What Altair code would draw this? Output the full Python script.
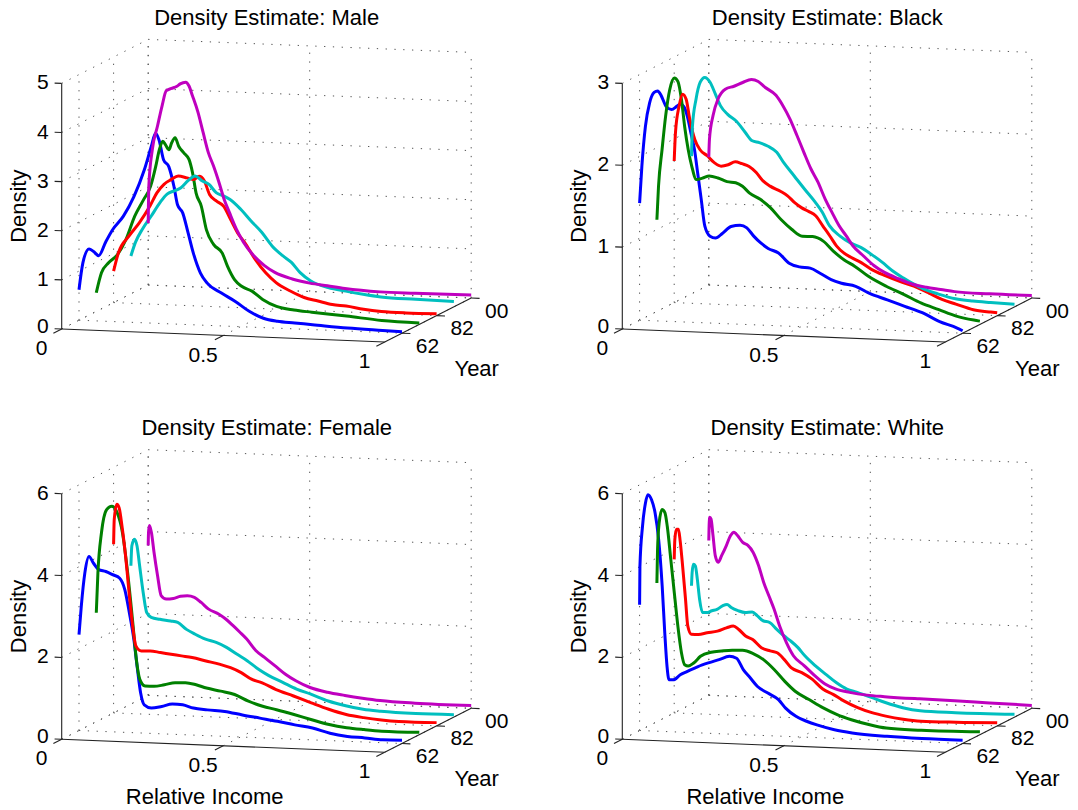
import altair as alt
import pandas as pd

# ---------------- data ----------------
panels = ["Male", "Black", "Female", "White"]
series = ["1962", "1972", "1982", "1992", "2000"]          # year index 1..5 along the Year axis
series_colors = ["#0000FF", "#008000", "#FF0000", "#00BFBF", "#BF00BF"]
year_ticks = [1, 3, 5]
year_tick_labels = ["62", "82", "00"]
income_ticks = [0, 0.5, 1]
income_tick_labels = ["0", "0.5", "1"]
density_ticks = {"Male": [0, 1, 2, 3, 4, 5], "Black": [0, 1, 2, 3],
                 "Female": [0, 2, 4, 6], "White": [0, 2, 4, 6]}

# (relative income, density) per curve
male_62 = [(0,0.62),(0.012,1.17),(0.031,1.46),(0.045,1.41),(0.061,1.33),(0.083,1.62),(0.104,1.87),(0.137,2.15),(0.17,2.56),(0.202,3.11),(0.224,3.6),(0.237,3.87),(0.248,3.73),(0.262,3.33),(0.278,3.2),(0.294,2.8),(0.305,2.43),(0.321,2.27),(0.338,1.86),(0.354,1.46),(0.376,1.06),(0.397,0.86),(0.441,0.67),(0.484,0.51),(0.527,0.32),(0.571,0.19),(0.614,0.14),(0.668,0.12),(0.723,0.1),(0.831,0.06),(0.94,0.04),(1.0,0.03)]
male_72 = [(0,0.38),(0.016,0.79),(0.038,1.0),(0.065,1.17),(0.092,1.49),(0.119,1.97),(0.146,2.31),(0.168,2.59),(0.184,3.0),(0.195,3.34),(0.206,3.52),(0.214,3.45),(0.225,3.35),(0.233,3.49),(0.244,3.6),(0.255,3.43),(0.271,3.3),(0.287,3.17),(0.298,2.9),(0.309,2.49),(0.325,2.23),(0.341,1.75),(0.363,1.46),(0.39,1.29),(0.406,1.03),(0.428,0.76),(0.45,0.63),(0.482,0.54),(0.515,0.38),(0.558,0.25),(0.612,0.19),(0.667,0.16),(0.775,0.11),(0.884,0.05),(1.0,0.03)]
male_82 = [(0,0.64),(0.015,1.02),(0.048,1.37),(0.08,1.65),(0.113,2.0),(0.134,2.27),(0.156,2.45),(0.178,2.55),(0.2,2.63),(0.227,2.6),(0.248,2.57),(0.265,2.64),(0.281,2.55),(0.297,2.28),(0.319,2.15),(0.341,2.05),(0.362,1.79),(0.384,1.52),(0.406,1.33),(0.438,1.0),(0.471,0.73),(0.503,0.54),(0.547,0.38),(0.59,0.26),(0.633,0.2),(0.677,0.14),(0.72,0.12),(0.774,0.07),(0.829,0.04),(0.905,0.03),(1.0,0.04)]
male_92 = [(0,0.77),(0.014,1.05),(0.036,1.33),(0.063,1.6),(0.09,1.88),(0.112,2.06),(0.134,2.13),(0.155,2.2),(0.177,2.35),(0.199,2.45),(0.22,2.36),(0.242,2.29),(0.264,2.13),(0.286,2.07),(0.307,2.0),(0.34,1.81),(0.372,1.58),(0.405,1.36),(0.437,1.09),(0.47,0.9),(0.497,0.77),(0.524,0.57),(0.557,0.41),(0.611,0.29),(0.665,0.23),(0.719,0.18),(0.774,0.14),(0.882,0.12),(1.0,0.11)]
male_00 = [(0,1.26),(0.002,2.02),(0.013,2.77),(0.029,3.25),(0.043,3.66),(0.056,3.97),(0.072,4.02),(0.089,4.07),(0.099,4.12),(0.116,4.16),(0.126,4.09),(0.137,3.89),(0.154,3.56),(0.17,3.15),(0.186,2.75),(0.202,2.48),(0.219,2.15),(0.235,1.81),(0.251,1.55),(0.273,1.21),(0.295,0.95),(0.327,0.68),(0.36,0.49),(0.392,0.36),(0.446,0.24),(0.5,0.17),(0.555,0.13),(0.609,0.09),(0.718,0.05),(0.826,0.05),(1.0,0.06)]

black_62 = [(0,1.43),(0.007,1.88),(0.018,2.37),(0.031,2.66),(0.045,2.79),(0.056,2.81),(0.066,2.76),(0.083,2.62),(0.099,2.59),(0.115,2.63),(0.126,2.66),(0.137,2.63),(0.148,2.51),(0.159,2.31),(0.17,2.11),(0.18,1.82),(0.191,1.5),(0.202,1.18),(0.218,1.06),(0.235,1.04),(0.256,1.1),(0.283,1.19),(0.311,1.21),(0.332,1.18),(0.354,1.08),(0.376,1.0),(0.398,0.94),(0.43,0.89),(0.463,0.77),(0.495,0.73),(0.528,0.72),(0.56,0.66),(0.593,0.59),(0.625,0.55),(0.669,0.52),(0.712,0.44),(0.767,0.37),(0.821,0.3),(0.875,0.23),(0.929,0.13),(0.983,0.06),(1.0,0.03)]
black_72 = [(0,1.12),(0.005,1.53),(0.016,1.98),(0.027,2.39),(0.04,2.72),(0.054,2.86),(0.065,2.82),(0.076,2.6),(0.086,2.27),(0.097,1.99),(0.108,1.79),(0.122,1.63),(0.141,1.65),(0.162,1.68),(0.189,1.66),(0.217,1.62),(0.244,1.61),(0.265,1.57),(0.287,1.49),(0.32,1.42),(0.352,1.32),(0.385,1.18),(0.417,1.07),(0.45,0.99),(0.482,0.99),(0.515,0.94),(0.547,0.82),(0.58,0.72),(0.612,0.65),(0.656,0.53),(0.71,0.42),(0.764,0.33),(0.819,0.23),(0.873,0.16),(0.927,0.09),(0.981,0.05),(1.0,0.04)]
black_82 = [(0,1.73),(0.004,2.08),(0.015,2.4),(0.026,2.55),(0.037,2.49),(0.048,2.25),(0.064,2.0),(0.08,1.88),(0.102,1.81),(0.124,1.73),(0.145,1.69),(0.167,1.71),(0.189,1.75),(0.21,1.73),(0.232,1.7),(0.254,1.63),(0.275,1.53),(0.297,1.47),(0.33,1.41),(0.351,1.36),(0.373,1.28),(0.395,1.22),(0.416,1.18),(0.438,1.13),(0.46,1.01),(0.482,0.89),(0.503,0.77),(0.525,0.69),(0.547,0.64),(0.579,0.58),(0.612,0.5),(0.655,0.43),(0.698,0.37),(0.742,0.32),(0.785,0.25),(0.829,0.17),(0.872,0.12),(0.926,0.06),(0.98,0.04),(1.0,0.035)]
black_92 = [(0,1.68),(0.003,2.05),(0.014,2.38),(0.027,2.59),(0.041,2.65),(0.058,2.59),(0.074,2.45),(0.09,2.31),(0.112,2.21),(0.139,2.13),(0.166,2.0),(0.188,1.9),(0.21,1.88),(0.237,1.84),(0.264,1.77),(0.285,1.65),(0.318,1.49),(0.351,1.33),(0.383,1.18),(0.405,1.06),(0.427,0.9),(0.459,0.78),(0.492,0.7),(0.524,0.65),(0.557,0.57),(0.59,0.48),(0.622,0.38),(0.655,0.3),(0.687,0.23),(0.72,0.17),(0.763,0.12),(0.817,0.07),(0.871,0.05),(0.926,0.04),(1.0,0.03)]
black_00 = [(0,1.56),(0.002,1.78),(0.013,2.07),(0.029,2.28),(0.051,2.4),(0.078,2.44),(0.105,2.49),(0.132,2.53),(0.153,2.51),(0.175,2.44),(0.208,2.35),(0.229,2.23),(0.251,2.07),(0.273,1.87),(0.294,1.67),(0.316,1.47),(0.338,1.31),(0.36,1.11),(0.381,0.95),(0.403,0.79),(0.425,0.67),(0.446,0.55),(0.479,0.43),(0.511,0.32),(0.544,0.24),(0.587,0.17),(0.631,0.11),(0.674,0.08),(0.718,0.06),(0.761,0.04),(0.87,0.03),(1.0,0.03)]

female_62 = [(0,2.34),(0.007,3.03),(0.018,3.85),(0.031,4.26),(0.045,4.1),(0.061,3.95),(0.083,3.91),(0.104,3.84),(0.126,3.76),(0.142,3.48),(0.156,2.92),(0.17,2.27),(0.18,1.62),(0.191,0.97),(0.202,0.69),(0.224,0.62),(0.256,0.67),(0.289,0.74),(0.321,0.73),(0.354,0.66),(0.397,0.63),(0.451,0.61),(0.506,0.54),(0.56,0.48),(0.614,0.42),(0.668,0.35),(0.723,0.29),(0.777,0.18),(0.831,0.12),(0.885,0.1),(0.94,0.07),(1.0,0.08)]
female_72 = [(0,2.66),(0.005,3.64),(0.016,4.62),(0.032,5.19),(0.048,5.28),(0.065,5.12),(0.081,4.64),(0.097,3.67),(0.114,2.37),(0.124,1.56),(0.135,1.07),(0.151,0.92),(0.179,0.92),(0.211,0.97),(0.244,1.03),(0.276,1.04),(0.309,1.0),(0.341,0.93),(0.385,0.87),(0.428,0.8),(0.471,0.65),(0.515,0.54),(0.558,0.47),(0.612,0.37),(0.667,0.26),(0.721,0.16),(0.775,0.1),(0.829,0.07),(0.884,0.05),(1.0,0.06)]
female_82 = [(0,4.12),(0.002,4.73),(0.01,5.1),(0.017,5.02),(0.026,4.57),(0.037,3.85),(0.048,2.95),(0.059,2.14),(0.069,1.66),(0.086,1.54),(0.113,1.55),(0.145,1.52),(0.178,1.49),(0.21,1.46),(0.243,1.43),(0.286,1.36),(0.33,1.29),(0.362,1.22),(0.395,1.11),(0.427,0.96),(0.46,0.88),(0.503,0.73),(0.557,0.59),(0.612,0.44),(0.666,0.3),(0.72,0.19),(0.774,0.13),(0.829,0.09),(0.883,0.07),(1.0,0.08)]
female_92 = [(0,3.38),(0.003,3.87),(0.011,4.03),(0.019,3.87),(0.027,3.39),(0.038,2.74),(0.049,2.25),(0.063,2.14),(0.09,2.1),(0.123,2.07),(0.145,2.04),(0.172,1.88),(0.199,1.77),(0.231,1.66),(0.264,1.59),(0.296,1.48),(0.329,1.32),(0.361,1.17),(0.394,0.98),(0.427,0.83),(0.47,0.68),(0.513,0.53),(0.557,0.42),(0.611,0.27),(0.665,0.17),(0.719,0.1),(0.774,0.07),(0.882,0.05),(1.0,0.06)]
female_00 = [(0,3.66),(0.001,3.98),(0.004,4.15),(0.01,3.98),(0.018,3.5),(0.029,2.93),(0.04,2.45),(0.056,2.37),(0.078,2.39),(0.1,2.45),(0.121,2.47),(0.143,2.44),(0.164,2.32),(0.186,2.17),(0.219,2.05),(0.24,1.94),(0.262,1.79),(0.284,1.63),(0.305,1.47),(0.333,1.2),(0.36,1.04),(0.392,0.85),(0.425,0.65),(0.457,0.5),(0.501,0.35),(0.555,0.25),(0.609,0.19),(0.663,0.14),(0.718,0.1),(0.826,0.07),(1.0,0.07)]

white_62 = [(0,3.07),(0.001,4.01),(0.009,4.99),(0.018,5.56),(0.026,5.77),(0.037,5.65),(0.048,5.33),(0.059,4.68),(0.07,3.54),(0.078,2.4),(0.085,1.59),(0.091,1.27),(0.104,1.27),(0.126,1.4),(0.148,1.49),(0.181,1.62),(0.213,1.72),(0.246,1.81),(0.278,1.9),(0.3,1.86),(0.321,1.59),(0.343,1.39),(0.365,1.19),(0.397,1.04),(0.43,0.89),(0.452,0.69),(0.484,0.5),(0.517,0.39),(0.549,0.31),(0.603,0.21),(0.658,0.15),(0.766,0.1),(0.874,0.08),(1.0,0.08)]
white_72 = [(0,3.39),(0.002,4.2),(0.007,4.86),(0.016,5.19),(0.025,5.11),(0.032,4.79),(0.043,3.98),(0.054,3.16),(0.065,2.35),(0.076,1.71),(0.086,1.42),(0.097,1.39),(0.114,1.47),(0.135,1.64),(0.168,1.75),(0.2,1.79),(0.233,1.82),(0.265,1.83),(0.298,1.76),(0.33,1.62),(0.363,1.39),(0.396,1.11),(0.428,0.88),(0.471,0.69),(0.515,0.5),(0.558,0.35),(0.602,0.24),(0.656,0.14),(0.71,0.07),(0.819,0.05),(1.0,0.07)]
white_82 = [(0,3.75),(0.002,4.24),(0.007,4.49),(0.013,4.49),(0.018,4.24),(0.026,3.6),(0.035,2.79),(0.042,2.14),(0.053,1.94),(0.075,1.94),(0.102,1.99),(0.134,2.04),(0.162,2.13),(0.183,2.18),(0.2,2.1),(0.221,1.95),(0.243,1.87),(0.27,1.68),(0.297,1.61),(0.319,1.57),(0.341,1.41),(0.362,1.22),(0.395,1.11),(0.427,0.96),(0.46,0.73),(0.492,0.61),(0.525,0.46),(0.568,0.31),(0.612,0.2),(0.655,0.13),(0.709,0.07),(0.764,0.04),(0.872,0.05),(1.0,0.08)]
white_92 = [(0,2.89),(0.002,3.22),(0.006,3.42),(0.012,3.38),(0.018,3.06),(0.025,2.57),(0.034,2.25),(0.047,2.25),(0.063,2.3),(0.079,2.34),(0.096,2.43),(0.11,2.47),(0.123,2.4),(0.144,2.33),(0.166,2.29),(0.188,2.31),(0.204,2.22),(0.221,2.11),(0.242,2.07),(0.264,1.91),(0.286,1.76),(0.307,1.64),(0.329,1.49),(0.351,1.29),(0.383,1.06),(0.416,0.86),(0.448,0.67),(0.481,0.52),(0.513,0.45),(0.557,0.34),(0.6,0.23),(0.654,0.12),(0.708,0.06),(0.817,0.05),(1.0,0.07)]
white_00 = [(0,3.78),(0.001,4.15),(0.003,4.35),(0.007,4.31),(0.013,3.91),(0.02,3.42),(0.029,3.26),(0.04,3.43),(0.054,3.67),(0.067,3.92),(0.078,4.01),(0.089,3.93),(0.105,3.77),(0.121,3.7),(0.137,3.54),(0.154,3.22),(0.17,2.81),(0.186,2.49),(0.202,2.17),(0.219,1.77),(0.24,1.37),(0.262,1.05),(0.295,0.82),(0.327,0.59),(0.36,0.39),(0.392,0.28),(0.436,0.21),(0.49,0.16),(0.544,0.14),(0.652,0.12),(0.761,0.11),(0.869,0.09),(1.0,0.07)]

curves = {
    "Male": [male_62, male_72, male_82, male_92, male_00],
    "Black": [black_62, black_72, black_82, black_92, black_00],
    "Female": [female_62, female_72, female_82, female_92, female_00],
    "White": [white_62, white_72, white_82, white_92, white_00],
}

# ---------------- layout (3-D view projection) ----------------
W, H = 1078, 810
EX = (323.0, 13.0)     # screen shift for relative income 0 -> 1
EY = (86.5, -44.0)     # screen shift across full year axis
ZH = 245.6             # screen height of density axis
YEAR_SPAN = 5.0
ORIGIN = {"Male": (61.7, 329.0), "Black": (622.3, 329.0),
          "Female": (61.7, 739.3), "White": (622.3, 739.3)}
FONT = "Liberation Sans"
FS = 22        # titles and axis labels
FS_TICK = 21   # tick labels


def project(panel, x, k, z):
    ox, oy = ORIGIN[panel]
    f = k / YEAR_SPAN
    zt = z / density_ticks[panel][-1]
    return ox + EX[0] * x + EY[0] * f, oy + EX[1] * x + EY[1] * f - ZH * zt


# curves
rows = []
for panel in panels:
    for k, (name, pts) in enumerate(zip(series, curves[panel]), start=1):
        for i, (x, d) in enumerate(pts):
            sx, sy = project(panel, x, k, d)
            rows.append(dict(panel=panel, series=name, key=panel + name, i=i, sx=sx, sy=sy))
curve_df = pd.DataFrame(rows)

# grid lines, axes, ticks
seg_rows = []


def seg(panel, kind, a, b):
    x1, y1 = project(panel, *a)
    x2, y2 = project(panel, *b)
    seg_rows.append(dict(kind=kind, sx=x1, sy=y1, sx2=x2, sy2=y2))


for panel in panels:
    zt = density_ticks[panel]
    zm = zt[-1]
    for x in income_ticks:
        seg(panel, "grid", (x, 0, 0), (x, YEAR_SPAN, 0))
        seg(panel, "grid", (x, YEAR_SPAN, 0), (x, YEAR_SPAN, zm))
    for k in year_ticks:
        seg(panel, "grid", (0, k, 0), (1, k, 0))
        seg(panel, "grid", (0, k, 0), (0, k, zm))
    for z in zt:
        seg(panel, "grid", (0, YEAR_SPAN, z), (1, YEAR_SPAN, z))
        seg(panel, "grid", (0, 0, z), (0, YEAR_SPAN, z))
    seg(panel, "axis", (0, 0, 0), (0, 0, zm))
    seg(panel, "axis", (0, 0, 0), (1, 0, 0))
    seg(panel, "axis", (1, 0, 0), (1, YEAR_SPAN, 0))
    for z in zt:
        seg(panel, "axis", (0, 0, z), (-0.022, 0, z))
    for x in income_ticks:
        seg(panel, "axis", (x, 0, 0), (x, -0.48, 0))
    for k in year_ticks:
        seg(panel, "axis", (1, k, 0), (1.026, k, 0))
seg_df = pd.DataFrame(seg_rows)

# text
tick_right, tick_center, center_rows, rot_rows, title_rows = [], [], [], [], []
for panel in panels:
    ox, oy = ORIGIN[panel]
    for j, z in enumerate(density_ticks[panel]):
        px, py = project(panel, 0, 0, z)
        tick_right.append(dict(sx=px - 13, sy=py - (2.5 if j == 0 else 0), label=str(z)))
    for x, lab in zip(income_ticks, income_tick_labels):
        px, py = project(panel, x, 0, 0)
        tick_center.append(dict(sx=px - 20, sy=py + 20, label=lab))
    for k, lab in zip(year_ticks, year_tick_labels):
        px, py = project(panel, 1, k, 0)
        tick_center.append(dict(sx=px + 25.5, sy=py + 13.5, label=lab))
    center_rows.append(dict(sx=ox + 415, sy=oy + 40, label="Year"))
    if panel in ("Female", "White"):
        center_rows.append(dict(sx=ox + 143, sy=oy + 57.5, label="Relative Income"))
    rot_rows.append(dict(sx=ox - 43, sy=oy - ZH / 2, label="Density"))
    title_rows.append(dict(sx=ox + 205, sy=oy - 311, label="Density Estimate: " + panel))

xs = alt.Scale(domain=[0, W], nice=False, zero=False)
ys = alt.Scale(domain=[H, 0], nice=False, zero=False)
X = alt.X("sx:Q", scale=xs, axis=None)
Y = alt.Y("sy:Q", scale=ys, axis=None)

grid = alt.Chart(seg_df).transform_filter(alt.datum.kind == "grid").mark_rule(
    color="#555555", strokeWidth=1, strokeDash=[1.3, 7.5]
).encode(x=X, y=Y, x2="sx2:Q", y2="sy2:Q")

axes = alt.Chart(seg_df).transform_filter(alt.datum.kind == "axis").mark_rule(
    color="#222222", strokeWidth=1.1
).encode(x=X, y=Y, x2="sx2:Q", y2="sy2:Q")

lines = alt.Chart(curve_df).mark_line(strokeWidth=3, interpolate="monotone").encode(
    x=X, y=Y,
    color=alt.Color("series:N", scale=alt.Scale(domain=series, range=series_colors), legend=None),
    detail="key:N",
    order="i:Q",
)

txt_tick_right = alt.Chart(pd.DataFrame(tick_right)).mark_text(
    align="right", baseline="middle", font=FONT, fontSize=FS_TICK, color="black"
).encode(x=X, y=Y, text="label:N")

txt_tick_center = alt.Chart(pd.DataFrame(tick_center)).mark_text(
    align="center", baseline="middle", font=FONT, fontSize=FS_TICK, color="black"
).encode(x=X, y=Y, text="label:N")

txt_center = alt.Chart(pd.DataFrame(center_rows)).mark_text(
    align="center", baseline="middle", font=FONT, fontSize=FS, color="black"
).encode(x=X, y=Y, text="label:N")

txt_rot = alt.Chart(pd.DataFrame(rot_rows)).mark_text(
    align="center", baseline="middle", angle=270, font=FONT, fontSize=FS, color="black"
).encode(x=X, y=Y, text="label:N")

txt_title = alt.Chart(pd.DataFrame(title_rows)).mark_text(
    align="center", baseline="middle", font=FONT, fontSize=FS, color="black"
).encode(x=X, y=Y, text="label:N")

chart = alt.layer(grid, axes, lines, txt_tick_right, txt_tick_center, txt_center,
                  txt_rot, txt_title).properties(
    width=W, height=H, padding=0, autosize=alt.AutoSizeParams(type="none"),
    background="white"
).configure_view(stroke=None)

chart.save("out.html", embed_options={"renderer": "svg", "actions": False})
